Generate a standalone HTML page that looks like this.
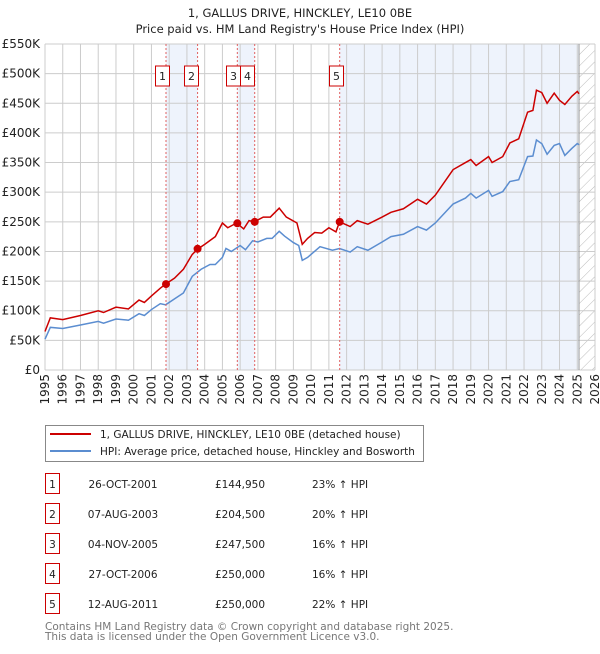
<!DOCTYPE html>
<html><head><meta charset="utf-8"><style>
body{margin:0;background:#fff;font-family:"DejaVu Sans","Liberation Sans",sans-serif;}
svg text{font-family:"DejaVu Sans","Liberation Sans",sans-serif;}
</style></head><body>
<svg id="chart" width="600" height="650" xmlns="http://www.w3.org/2000/svg">
<defs><pattern id="hatch" width="8" height="8" patternUnits="userSpaceOnUse" patternTransform="rotate(45)"><line x1="0" y1="0" x2="0" y2="8" stroke="#bbb" stroke-width="1"/></pattern></defs>
<text x="300" y="17" text-anchor="middle" font-size="11.5" fill="#222">1, GALLUS DRIVE, HINCKLEY, LE10 0BE</text>
<text x="300" y="33" text-anchor="middle" font-size="11.5" fill="#222">Price paid vs. HM Land Registry's House Price Index (HPI)</text>
<g id="shade"></g><g id="grid"></g><g id="axes"></g><g id="lines"></g><g id="marks"></g>
<rect x="45.5" y="425.5" width="378" height="36" fill="#fff" stroke="#888"/>
<line x1="50" y1="434" x2="91" y2="434" stroke="#cc0000" stroke-width="2"/>
<text x="100" y="438" font-size="10.5" fill="#222">1, GALLUS DRIVE, HINCKLEY, LE10 0BE (detached house)</text>
<line x1="50" y1="451" x2="91" y2="451" stroke="#5b8dd0" stroke-width="2"/>
<text x="100" y="455" font-size="10.5" fill="#222">HPI: Average price, detached house, Hinckley and Bosworth</text>
<g id="table"></g>
<text x="45" y="630" font-size="10.5" fill="#777">Contains HM Land Registry data © Crown copyright and database right 2025.</text>
<text x="45" y="640" font-size="10.5" fill="#777">This data is licensed under the Open Government Licence v3.0.</text>
</svg>
<script>
const yTicks=[0,50,100,150,200,250,300,350,400,450,500,550];
const yTickLabels=["£0","£50K","£100K","£150K","£200K","£250K","£300K","£350K","£400K","£450K","£500K","£550K"];
const xYears=[1995,1996,1997,1998,1999,2000,2001,2002,2003,2004,2005,2006,2007,2008,2009,2010,2011,2012,2013,2014,2015,2016,2017,2018,2019,2020,2021,2022,2023,2024,2025,2026];
const hpiT=[1995,1995.3,1996,1997,1998,1998.3,1999,1999.7,2000.3,2000.6,2001,2001.5,2001.8,2002.3,2002.8,2003.3,2003.8,2004.3,2004.6,2005,2005.2,2005.5,2006,2006.3,2006.7,2007,2007.5,2007.8,2008.2,2008.5,2009,2009.3,2009.5,2009.8,2010.5,2011.2,2011.6,2012.2,2012.6,2013.2,2014,2014.5,2015.2,2016,2016.5,2017,2018,2018.7,2019,2019.3,2020,2020.2,2020.8,2021.2,2021.7,2022.2,2022.5,2022.7,2023,2023.3,2023.7,2024,2024.3,2024.7,2025,2025.1];
const hpiV=[52,72,70,76,82,79,86,84,95,92,102,112,110,120,130,158,170,178,178,190,205,200,210,203,218,216,222,222,234,226,215,210,185,190,208,202,205,199,208,202,216,225,229,242,236,248,280,290,298,290,303,293,301,318,321,360,361,388,382,364,379,382,362,374,382,380];
const propT=[1995,1995.3,1996,1997,1998,1998.3,1999,1999.7,2000.3,2000.6,2001,2001.5,2001.8,2002.3,2002.8,2003.3,2003.6,2004,2004.6,2005,2005.3,2005.8,2006.2,2006.5,2006.8,2007.3,2007.7,2008.2,2008.6,2009.2,2009.5,2009.8,2010.2,2010.6,2011,2011.4,2011.6,2012.2,2012.6,2013.2,2014,2014.5,2015.2,2016,2016.5,2017,2018,2018.7,2019,2019.3,2020,2020.2,2020.8,2021.2,2021.7,2022.2,2022.5,2022.7,2023,2023.3,2023.7,2024,2024.3,2024.7,2025,2025.1];
const propV=[65,88,85,92,100,97,106,103,118,114,125,138,145,155,170,195,204,212,225,248,240,248,238,252,250,258,258,273,258,248,212,222,232,231,240,233,250,242,252,246,258,266,272,288,280,295,338,350,355,345,360,350,360,383,390,435,438,472,468,450,467,455,448,462,470,466];
const saleT=[2001.82,2003.6,2005.84,2006.82,2011.61];
const saleV=[144.95,204.5,247.5,250,250];
const saleDates=["26-OCT-2001","07-AUG-2003","04-NOV-2005","27-OCT-2006","12-AUG-2011"];
const salePrices=["£144,950","£204,500","£247,500","£250,000","£250,000"];
const salePct=["23% ↑ HPI","20% ↑ HPI","16% ↑ HPI","16% ↑ HPI","22% ↑ HPI"];
const NS="http://www.w3.org/2000/svg";
const X0=45,X1=595,Y0=370,Y1=44;
const xs=t=>X0+(t-1995)/(2026-1995)*(X1-X0);
const ys=v=>Y0-v/550*(Y0-Y1);
function mk(p,tag,a){const e=document.createElementNS(NS,tag);for(const k in a)e.setAttribute(k,a[k]);document.getElementById(p).appendChild(e);return e;}
[[0,1],[2,3]].forEach(([a,b],i)=>{const r=mk('shade','rect',{x:xs(saleT[a]),y:Y1,width:xs(saleT[b])-xs(saleT[a]),height:Y0-Y1,fill:'#eef3fc'});

});
let r5=mk('shade','rect',{x:xs(saleT[4]),y:Y1,width:xs(2025.1)-xs(saleT[4]),height:Y0-Y1,fill:'#eef3fc'});


let hr=mk('shade','rect',{x:xs(2025.1),y:Y1,width:X1-xs(2025.1),height:Y0-Y1,fill:'url(#hatch)'});


yTicks.forEach((v,i)=>{let l=mk('grid','line',{x1:X0,x2:X1,y1:ys(v),y2:ys(v),stroke:'#ccc'});


let t=mk('axes','text',{x:40,y:ys(v)+4,'text-anchor':'end','font-size':12,fill:'#222'});t.textContent=yTickLabels[i];

});
xYears.forEach(y=>{let l=mk('grid','line',{x1:xs(y),x2:xs(y),y1:Y1,y2:Y0,stroke:'#ccc'});


let t=mk('axes','text',{x:0,y:0,'text-anchor':'end','font-size':12,fill:'#222',transform:`translate(${xs(y)+4},374) rotate(-90)`});t.textContent=y;

});
let vl=mk('grid','line',{x1:xs(2025.1),x2:xs(2025.1),y1:Y1,y2:Y0,stroke:'#999'});


let hp=mk('lines','polyline',{points:hpiT.map((t,i)=>xs(t)+','+ys(hpiV[i])).join(' '),fill:'none',stroke:'#5b8dd0','stroke-width':1.5});


let pp=mk('lines','polyline',{points:propT.map((t,i)=>xs(t)+','+ys(propV[i])).join(' '),fill:'none',stroke:'#cc0000','stroke-width':1.5});


saleT.forEach((t,i)=>{let d=mk('marks','line',{x1:xs(t),x2:xs(t),y1:Y1,y2:Y0,stroke:'#e06060','stroke-dasharray':'2,2'});


let c=mk('marks','circle',{cx:xs(t),cy:ys(saleV[i]),r:4,fill:'#cc0000'});


let b=mk('marks','rect',{x:[155.5,184.5,226.5,240.5,329.5][i],y:66,width:14,height:20,fill:'#fff',stroke:'#cc0000'});


let tx=mk('marks','text',{x:[162.5,191.5,233.5,247.5,336.5][i],y:80,'text-anchor':'middle','font-size':11,fill:'#222'});tx.textContent=i+1;

});
saleDates.forEach((d,i)=>{const y=[484,514,544,574,604][i];
let b=mk('table','rect',{x:45.5,y:y-10.5,width:14,height:20,fill:'#fff',stroke:'#cc0000'});


[[52.5,String(i+1),'middle'],[123,d,'middle'],[240,salePrices[i],'middle'],[312,salePct[i],'start']].forEach(([x,s,a],k)=>{
let t=mk('table','text',{x:x,y:y+4,'text-anchor':a,'font-size':10.5,fill:'#222'});t.textContent=s;

});});
</script>
</body></html>
